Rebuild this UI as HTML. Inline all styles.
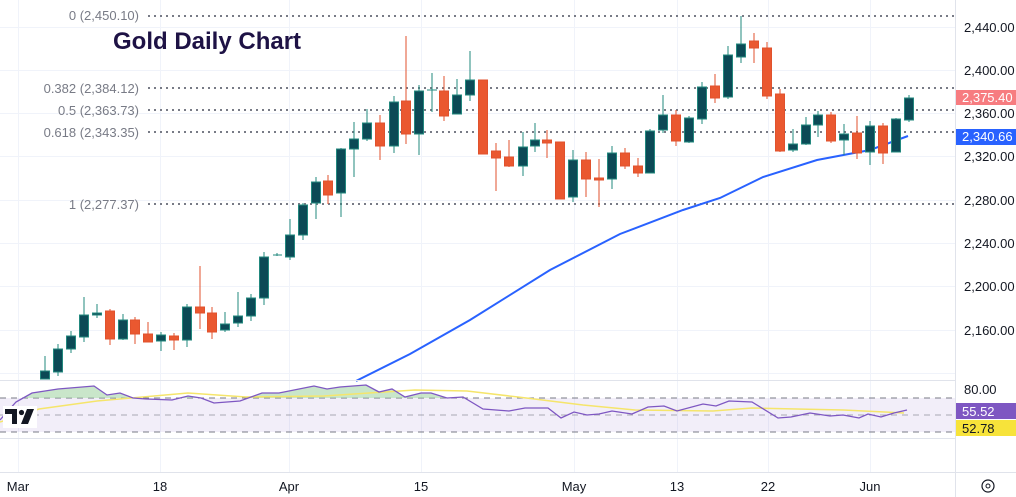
<!DOCTYPE html>
<html><head><meta charset="utf-8"><style>
html,body{margin:0;padding:0;background:#fff;}
svg{display:block;font-family:"Liberation Sans","DejaVu Sans",sans-serif;}
</style></head><body>
<svg width="1016" height="497" viewBox="0 0 1016 497" xmlns="http://www.w3.org/2000/svg">
<rect width="1016" height="497" fill="#fff"/>
<g stroke="#f0f3fa" stroke-width="1">
<line x1="18.5" y1="0" x2="18.5" y2="472"/><line x1="160.5" y1="0" x2="160.5" y2="472"/><line x1="289.5" y1="0" x2="289.5" y2="472"/><line x1="421.5" y1="0" x2="421.5" y2="472"/><line x1="574.5" y1="0" x2="574.5" y2="472"/><line x1="677.5" y1="0" x2="677.5" y2="472"/><line x1="768.5" y1="0" x2="768.5" y2="472"/><line x1="870.5" y1="0" x2="870.5" y2="472"/>
<line x1="0" y1="27.5" x2="955" y2="27.5"/><line x1="0" y1="70.5" x2="955" y2="70.5"/><line x1="0" y1="113.5" x2="955" y2="113.5"/><line x1="0" y1="156.5" x2="955" y2="156.5"/><line x1="0" y1="200.5" x2="955" y2="200.5"/><line x1="0" y1="243.5" x2="955" y2="243.5"/><line x1="0" y1="286.5" x2="955" y2="286.5"/><line x1="0" y1="330.5" x2="955" y2="330.5"/><line x1="0" y1="373.5" x2="955" y2="373.5"/>
</g>
<g stroke="#787b86" stroke-width="2" stroke-dasharray="2,4">
<line x1="148" y1="16" x2="955" y2="16"/><line x1="148" y1="88" x2="955" y2="88"/><line x1="148" y1="110" x2="955" y2="110"/><line x1="148" y1="132" x2="955" y2="132"/><line x1="148" y1="204" x2="955" y2="204"/>
</g>
<g fill="#787b86" font-size="13" text-anchor="end">
<text x="139" y="20">0 (2,450.10)</text><text x="139" y="93">0.382 (2,384.12)</text><text x="139" y="115">0.5 (2,363.73)</text><text x="139" y="137">0.618 (2,343.35)</text><text x="139" y="209">1 (2,277.37)</text>
</g>
<text x="113" y="49" font-size="24" font-weight="bold" fill="#1e1245" font-family="'Liberation Sans',sans-serif">Gold Daily Chart</text>
<polyline fill="none" stroke="#2962ff" stroke-width="2" points="356,381 410,354 470,320 550,270 620,234 683,210 720,198 763,177 817,160 870,150 908,136"/>
<g stroke="#22887e" stroke-width="1">
<line x1="45" y1="356" x2="45" y2="379"/><rect x="40.5" y="371" width="9" height="8" fill="#0c4a56"/>
<line x1="58" y1="344" x2="58" y2="376"/><rect x="53.5" y="349" width="9" height="23" fill="#0c4a56"/>
<line x1="71" y1="331" x2="71" y2="353"/><rect x="66.5" y="336" width="9" height="13" fill="#0c4a56"/>
<line x1="84" y1="297" x2="84" y2="342"/><rect x="79.5" y="315" width="9" height="22" fill="#0c4a56"/>
<line x1="97" y1="304" x2="97" y2="318"/><rect x="92.5" y="313" width="9" height="2" fill="#0c4a56"/>
<line x1="123" y1="314" x2="123" y2="340"/><rect x="118.5" y="320" width="9" height="19" fill="#0c4a56"/>
<line x1="161" y1="332" x2="161" y2="351"/><rect x="156.5" y="335" width="9" height="6" fill="#0c4a56"/>
<line x1="187" y1="304" x2="187" y2="347"/><rect x="182.5" y="307" width="9" height="33" fill="#0c4a56"/>
<line x1="225" y1="312" x2="225" y2="332"/><rect x="220.5" y="324" width="9" height="6" fill="#0c4a56"/>
<line x1="238" y1="292" x2="238" y2="327"/><rect x="233.5" y="316" width="9" height="7" fill="#0c4a56"/>
<line x1="251" y1="294" x2="251" y2="321"/><rect x="246.5" y="298" width="9" height="18" fill="#0c4a56"/>
<line x1="264" y1="252" x2="264" y2="305"/><rect x="259.5" y="257" width="9" height="41" fill="#0c4a56"/>
<line x1="277" y1="253" x2="277" y2="256"/><line x1="273" y1="255" x2="282" y2="255"/>
<line x1="290" y1="219" x2="290" y2="260"/><rect x="285.5" y="235" width="9" height="22" fill="#0c4a56"/>
<line x1="303" y1="203" x2="303" y2="240"/><rect x="298.5" y="205" width="9" height="30" fill="#0c4a56"/>
<line x1="316" y1="177" x2="316" y2="219"/><rect x="311.5" y="182" width="9" height="21" fill="#0c4a56"/>
<line x1="341" y1="148" x2="341" y2="217"/><rect x="336.5" y="149" width="9" height="44" fill="#0c4a56"/>
<line x1="354" y1="122" x2="354" y2="177"/><rect x="349.5" y="139" width="9" height="10" fill="#0c4a56"/>
<line x1="367" y1="109" x2="367" y2="141"/><rect x="362.5" y="123" width="9" height="16" fill="#0c4a56"/>
<line x1="394" y1="96" x2="394" y2="153"/><rect x="389.5" y="102" width="9" height="44" fill="#0c4a56"/>
<line x1="419" y1="85" x2="419" y2="155"/><rect x="414.5" y="91" width="9" height="43" fill="#0c4a56"/>
<line x1="432" y1="73" x2="432" y2="112"/><line x1="427" y1="90" x2="437" y2="90"/>
<line x1="457" y1="79" x2="457" y2="114"/><rect x="452.5" y="95" width="9" height="19" fill="#0c4a56"/>
<line x1="470" y1="51" x2="470" y2="101"/><rect x="465.5" y="80" width="9" height="15" fill="#0c4a56"/>
<line x1="523" y1="132" x2="523" y2="176"/><rect x="518.5" y="147" width="9" height="19" fill="#0c4a56"/>
<line x1="535" y1="123" x2="535" y2="152"/><rect x="530.5" y="140" width="9" height="6" fill="#0c4a56"/>
<line x1="573" y1="150" x2="573" y2="202"/><rect x="568.5" y="160" width="9" height="37" fill="#0c4a56"/>
<line x1="612" y1="146" x2="612" y2="189"/><rect x="607.5" y="153" width="9" height="26" fill="#0c4a56"/>
<line x1="650" y1="129" x2="650" y2="173"/><rect x="645.5" y="131" width="9" height="42" fill="#0c4a56"/>
<line x1="663" y1="95" x2="663" y2="133"/><rect x="658.5" y="115" width="9" height="15" fill="#0c4a56"/>
<line x1="689" y1="116" x2="689" y2="143"/><rect x="684.5" y="118" width="9" height="24" fill="#0c4a56"/>
<line x1="702" y1="82" x2="702" y2="124"/><rect x="697.5" y="87" width="9" height="32" fill="#0c4a56"/>
<line x1="728" y1="46" x2="728" y2="99"/><rect x="723.5" y="55" width="9" height="42" fill="#0c4a56"/>
<line x1="741" y1="16" x2="741" y2="63"/><rect x="736.5" y="44" width="9" height="13" fill="#0c4a56"/>
<line x1="793" y1="129" x2="793" y2="152"/><rect x="788.5" y="144" width="9" height="6" fill="#0c4a56"/>
<line x1="806" y1="117" x2="806" y2="145"/><rect x="801.5" y="125" width="9" height="19" fill="#0c4a56"/>
<line x1="818" y1="111" x2="818" y2="137"/><rect x="813.5" y="115" width="9" height="10" fill="#0c4a56"/>
<line x1="844" y1="124" x2="844" y2="155"/><rect x="839.5" y="134" width="9" height="6" fill="#0c4a56"/>
<line x1="870" y1="121" x2="870" y2="165"/><rect x="865.5" y="126" width="9" height="26" fill="#0c4a56"/>
<line x1="896" y1="118" x2="896" y2="152"/><rect x="891.5" y="119" width="9" height="33" fill="#0c4a56"/>
<line x1="909" y1="95" x2="909" y2="122"/><rect x="904.5" y="98" width="9" height="22" fill="#0c4a56"/>
</g>
<g stroke="#e0522d" fill="#ea5830" stroke-width="1">
<line x1="110" y1="309" x2="110" y2="345"/><rect x="105.5" y="311" width="9" height="28"/>
<line x1="135" y1="317" x2="135" y2="344"/><rect x="130.5" y="320" width="9" height="14"/>
<line x1="148" y1="322" x2="148" y2="342"/><rect x="143.5" y="334" width="9" height="8"/>
<line x1="174" y1="333" x2="174" y2="350"/><rect x="169.5" y="336" width="9" height="4"/>
<line x1="200" y1="266" x2="200" y2="329"/><rect x="195.5" y="307" width="9" height="6"/>
<line x1="212" y1="307" x2="212" y2="339"/><rect x="207.5" y="313" width="9" height="19"/>
<line x1="328" y1="175" x2="328" y2="204"/><rect x="323.5" y="181" width="9" height="14"/>
<line x1="380" y1="115" x2="380" y2="160"/><rect x="375.5" y="123" width="9" height="23"/>
<line x1="406" y1="36" x2="406" y2="144"/><rect x="401.5" y="101" width="9" height="33"/>
<line x1="444" y1="76" x2="444" y2="121"/><rect x="439.5" y="91" width="9" height="25"/>
<rect x="478.5" y="80" width="9" height="74"/>
<line x1="496" y1="143" x2="496" y2="191"/><rect x="491.5" y="151" width="9" height="7"/>
<line x1="509" y1="140" x2="509" y2="167"/><rect x="504.5" y="157" width="9" height="9"/>
<line x1="547" y1="130" x2="547" y2="158"/><rect x="542.5" y="140" width="9" height="3"/>
<rect x="555.5" y="142" width="9" height="57"/>
<line x1="586" y1="152" x2="586" y2="197"/><rect x="581.5" y="160" width="9" height="19"/>
<line x1="599" y1="159" x2="599" y2="207"/><rect x="594.5" y="178" width="9" height="2"/>
<line x1="625" y1="148" x2="625" y2="169"/><rect x="620.5" y="153" width="9" height="13"/>
<line x1="638" y1="158" x2="638" y2="177"/><rect x="633.5" y="166" width="9" height="7"/>
<line x1="676" y1="110" x2="676" y2="146"/><rect x="671.5" y="115" width="9" height="26"/>
<line x1="715" y1="74" x2="715" y2="103"/><rect x="710.5" y="86" width="9" height="12"/>
<line x1="754" y1="33" x2="754" y2="63"/><rect x="749.5" y="41" width="9" height="7"/>
<line x1="767" y1="42" x2="767" y2="99"/><rect x="762.5" y="48" width="9" height="48"/>
<line x1="780" y1="89" x2="780" y2="152"/><rect x="775.5" y="94" width="9" height="57"/>
<line x1="831" y1="112" x2="831" y2="143"/><rect x="826.5" y="115" width="9" height="26"/>
<line x1="857" y1="116" x2="857" y2="159"/><rect x="852.5" y="133" width="9" height="20"/>
<line x1="883" y1="123" x2="883" y2="164"/><rect x="878.5" y="126" width="9" height="27"/>
</g>
<line x1="0" y1="380.5" x2="955" y2="380.5" stroke="#e0e3eb"/>
<line x1="0" y1="438.5" x2="955" y2="438.5" stroke="#e0e3eb"/>
<rect x="0" y="398" width="955" height="34" fill="#7e57c2" opacity="0.1"/>
<g stroke="#787b86" stroke-dasharray="6,5" stroke-width="1">
<line x1="0" y1="398" x2="955" y2="398"/><line x1="0" y1="415" x2="955" y2="415" opacity="0.6"/><line x1="0" y1="432" x2="955" y2="432"/>
</g>
<defs><clipPath id="ob"><rect x="0" y="370" width="955" height="28"/></clipPath></defs>
<polygon clip-path="url(#ob)" fill="#a5d6a7" opacity="0.6" points="0,398 16,402 32,393 58,389 94,386 107,395 120,393 133,398 146,399 172,400 188,396 201,398 214,403 240,401 262,393 279,393 314,386 327,389 340,387 366,385 379,392 392,389 405,397 421,393 431,393 447,398 463,397 483,409 483,398"/>
<polyline fill="none" stroke="#f5e56b" stroke-width="1.5" points="0,422 39,409 97,401 188,393 246,397 324,396 415,390 467,391 518,397 583,405 635,410 713,411 752,408 843,410 904,413"/>
<polyline fill="none" stroke="#7e57c2" stroke-width="1.3" points="0,420 16,402 32,393 58,389 94,386 107,395 120,393 133,398 146,399 172,400 188,396 201,398 214,403 240,401 262,393 279,393 314,386 327,389 340,387 366,385 379,392 392,389 405,397 421,393 431,393 447,398 463,397 483,409 509,411 525,408 548,408 561,418 574,412 587,415 599,414 612,411 632,414 648,407 664,406 677,411 703,404 716,406 729,401 752,402 778,418 791,417 810,413 830,416 843,415 859,418 868,414 881,417 894,413 907,410"/>
<rect x="3" y="406" width="34" height="22" fill="#fff"/>
<path d="M5 409 H17 V424 H12 V414 H5 Z" fill="#131722"/>
<circle cx="21.5" cy="412.5" r="2.6" fill="#131722"/>
<path d="M27 409 H34 L28 424 H21 Z" fill="#131722"/>
<line x1="955.5" y1="0" x2="955.5" y2="497" stroke="#e0e3eb"/>
<line x1="0" y1="472.5" x2="1016" y2="472.5" stroke="#e0e3eb"/>
<g fill="#131722" font-size="13">
<text x="964" y="32">2,440.00</text><text x="964" y="75">2,400.00</text><text x="964" y="118">2,360.00</text><text x="964" y="161">2,320.00</text><text x="964" y="205">2,280.00</text><text x="964" y="248">2,240.00</text><text x="964" y="291">2,200.00</text><text x="964" y="335">2,160.00</text><text x="964" y="394">80.00</text>
</g>
<rect x="956" y="90" width="60" height="15" fill="#f77c80"/><text x="962" y="102" font-size="13" fill="#fff">2,375.40</text>
<rect x="956" y="129" width="60" height="16" fill="#2962ff"/><text x="962" y="141" font-size="13" fill="#fff">2,340.66</text>
<rect x="956" y="403" width="60" height="16" fill="#7e57c2"/><text x="962" y="416" font-size="13" fill="#fff">55.52</text>
<rect x="956" y="420" width="60" height="16" fill="#f7e33a"/><text x="962" y="433" font-size="13" fill="#131722">52.78</text>
<g fill="#131722" font-size="13" text-anchor="middle">
<text x="18" y="491">Mar</text><text x="160" y="491">18</text><text x="289" y="491">Apr</text><text x="421" y="491">15</text><text x="574" y="491">May</text><text x="677" y="491">13</text><text x="768" y="491">22</text><text x="870" y="491">Jun</text>
</g>
<circle cx="988" cy="486" r="6" fill="none" stroke="#131722" stroke-width="1.2"/><circle cx="988" cy="486" r="2" fill="none" stroke="#131722"/>
</svg>
</body></html>
